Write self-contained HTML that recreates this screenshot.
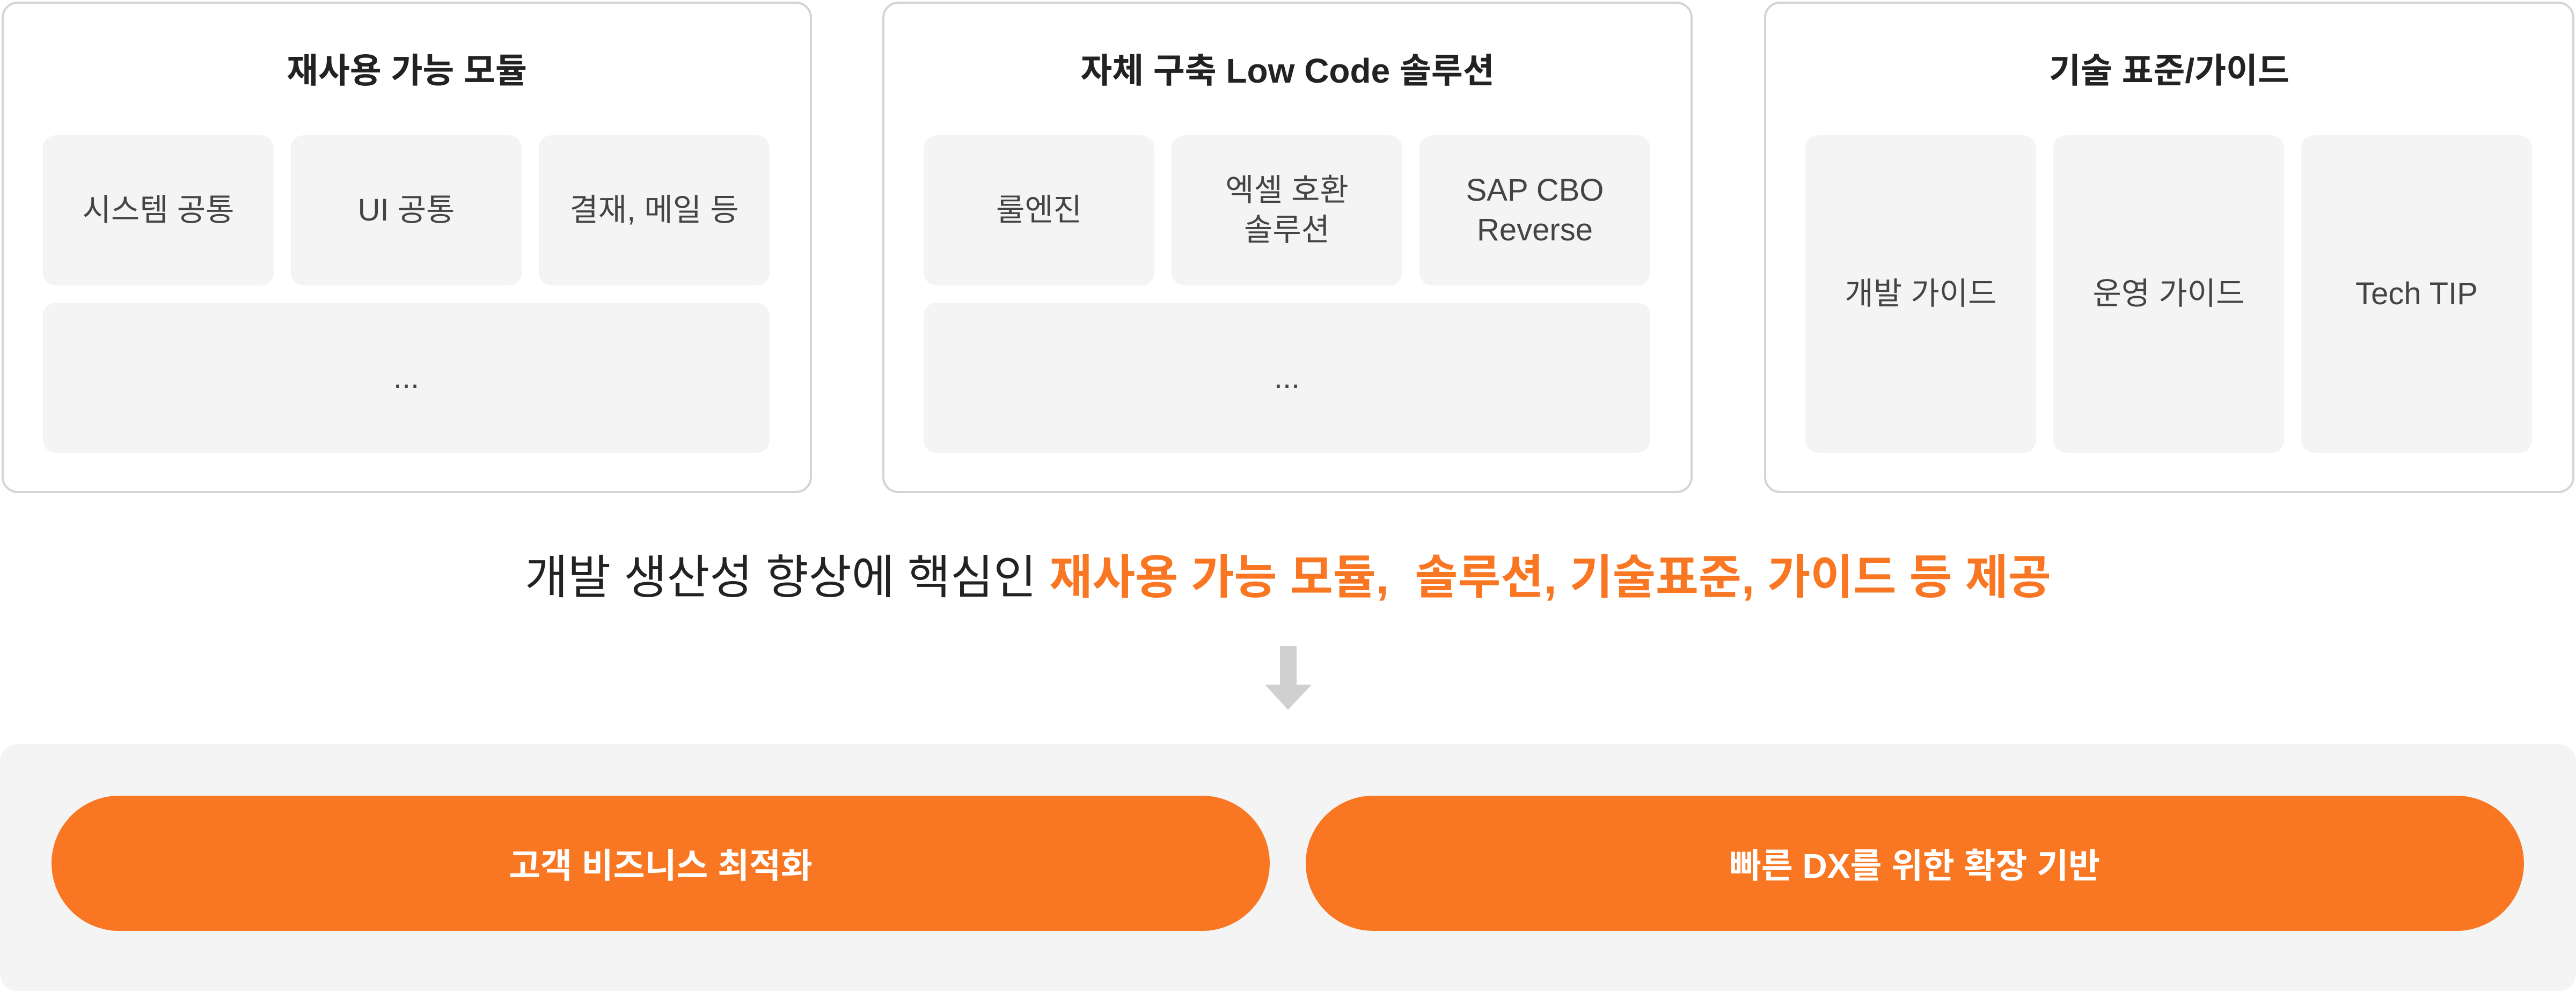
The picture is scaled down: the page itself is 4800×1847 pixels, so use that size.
<!DOCTYPE html>
<html><head><meta charset="utf-8"><style>
*{margin:0;padding:0;box-sizing:border-box}
body{width:4800px;height:1832px;background:#fff;position:relative;overflow:hidden;font-family:"Liberation Sans","Noto Sans CJK KR",sans-serif}
.box{position:absolute;top:3px;width:1510px;height:916px;border:4px solid #d4d4d4;border-radius:30px;background:#fff}
.title{position:absolute;left:0;right:0;top:80px;text-align:center;font-size:64px;font-weight:bold;color:#222;line-height:90px}
.cell{position:absolute;background:#f4f4f4;border-radius:24px;display:flex;align-items:center;justify-content:center;text-align:center;font-size:58px;color:#444;line-height:74px}
.mid{position:absolute;left:0;width:4800px;top:1022px;text-align:center;font-size:87px;color:#222;line-height:110px;white-space:nowrap}
.mid b{color:#f97622;font-weight:bold}
.panel{position:absolute;left:0;top:1387px;width:4800px;height:460px;background:#f4f4f4;border-radius:32px}
.pill{position:absolute;top:1483px;height:252px;background:#f97622;border-radius:126px;color:#fff;font-size:64px;font-weight:bold;display:flex;align-items:center;justify-content:center}
</style></head><body>

<div class="box" style="left:3px">
<div class="title">재사용 가능 모듈</div>
</div>
<div class="cell" style="left:80px;top:252px;width:430px;height:280px">시스템 공통</div>
<div class="cell" style="left:542px;top:252px;width:430px;height:280px">UI 공통</div>
<div class="cell" style="left:1004px;top:252px;width:430px;height:280px">결재, 메일 등</div>
<div class="cell" style="left:80px;top:564px;width:1354px;height:280px">...</div>

<div class="box" style="left:1644px">
<div class="title">자체 구축 Low Code 솔루션</div>
</div>
<div class="cell" style="left:1721px;top:252px;width:430px;height:280px">룰엔진</div>
<div class="cell" style="left:2183px;top:252px;width:430px;height:280px">엑셀 호환<br>솔루션</div>
<div class="cell" style="left:2645px;top:252px;width:430px;height:280px">SAP CBO<br>Reverse</div>
<div class="cell" style="left:1721px;top:564px;width:1354px;height:280px">...</div>

<div class="box" style="left:3287px">
<div class="title">기술 표준/가이드</div>
</div>
<div class="cell" style="left:3364px;top:252px;width:430px;height:592px">개발 가이드</div>
<div class="cell" style="left:3826px;top:252px;width:430px;height:592px">운영 가이드</div>
<div class="cell" style="left:4288px;top:252px;width:430px;height:592px">Tech TIP</div>

<div class="mid">개발 생산성 향상에 핵심인 <b>재사용 가능 모듈,&nbsp; 솔루션, 기술표준, 가이드 등 제공</b></div>

<svg style="position:absolute;left:0;top:0" width="4800" height="1832">
<rect x="2385" y="1204" width="31" height="74" fill="#d0d0d0"/>
<polygon points="2357,1276 2444,1276 2400,1323" fill="#d0d0d0"/>
</svg>

<div class="panel"></div>
<div class="pill" style="left:96px;width:2270px">고객 비즈니스 최적화</div>
<div class="pill" style="left:2433px;width:2270px">빠른 DX를 위한 확장 기반</div>
</body></html>
